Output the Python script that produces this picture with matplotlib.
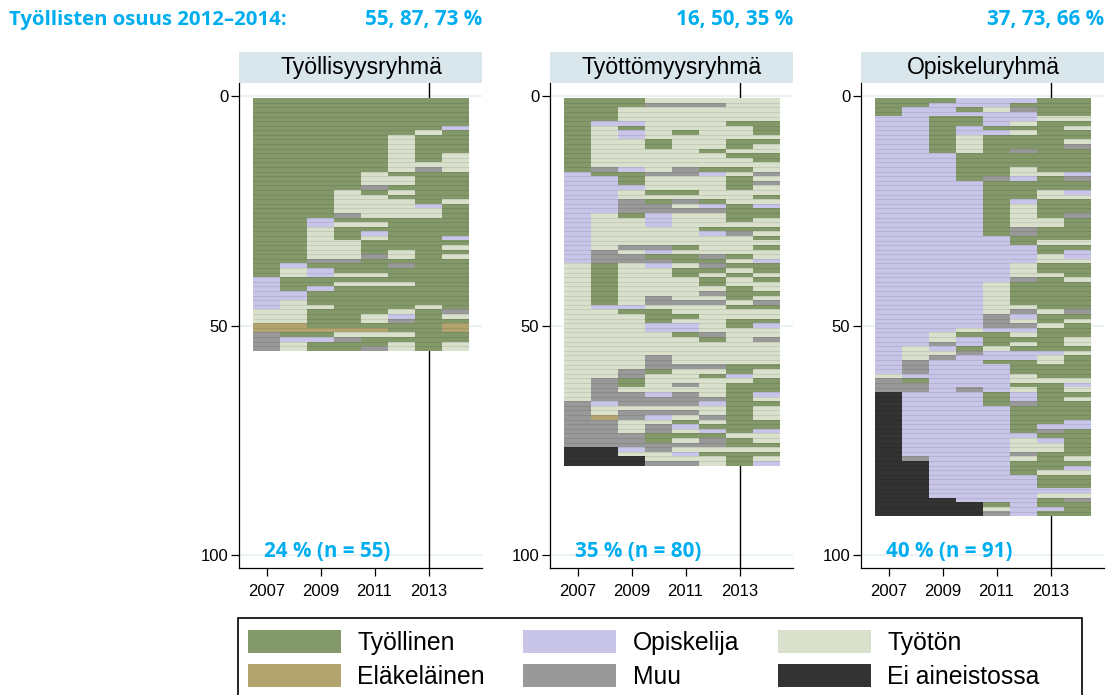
import matplotlib
matplotlib.use('Agg')
import matplotlib.pyplot as plt
from matplotlib.patches import Patch, Rectangle

# T tyollinen, E elakelainen, O opiskelija, M muu, U tyoton, X ei aineistossa
years = [2007, 2008, 2009, 2010, 2011, 2012, 2013, 2014]
tyollisyys = [
    "TTTTTTTT", "TTTTTTTT", "TTTTTTTT", "TTTTTTTT", "TTTTTTTT", "TTTTTTTT", "TTTTTTTO", "TTTTTTUT",
    "TTTTTUTT", "TTTTTUTT", "TTTTTUTT", "TTTTTUTT", "TTTTTUTU", "TTTTTUTU", "TTTTTUUU", "TTTTTUMU",
    "TTTTUTTT", "TTTTUUTT", "TTTTUUTT", "TTTTMTTT", "TTTUTUTT", "TTTUUTTT", "TTTUUUTU", "TTTUUUOT",
    "TTTUUUUT", "TTTMUUUT", "TTOTTTTT", "TTOUUTTT", "TTUTTTTT", "TTUTOTTT", "TTUTUTTO", "TTUUTTTT",
    "TTUUTTTU", "TTUUTUTT", "TTUUMUTU", "TTMMTTTT", "TOTTTMTT", "TUOTTTTT", "TUOUUTTT", "OTTTTTTT",
    "OTTUUUTT", "OTOTTTTT", "OOTTTTTT", "OOTTTTTT", "OUTTTTTT", "OUUTTTUT", "UUTTTUTM", "UUTTUOTU",
    "UUTTUMTT", "EETTTTTE", "EEEEETTE", "MTTUUUTT", "MOOMTTTT", "MUTTTUTU", "MUTTMUTU",
]
tyottomyys = [
    "TTTUUUUU", "TTTMMMUU", "TTUUUUUU", "TTUUUUUU", "TTUUUUUU", "TOOUUUTT", "TUTUUUUT", "TUOUTUUT",
    "TUOUUUUU", "TUUTUUTT", "TUUTUUTU", "TUUUUTUU", "TUUUUUTT", "TUUUUUUT", "TUUUUUUU", "TMOUMTTU",
    "OTTMMOUM", "OOTUUUTU", "OOTUUUTM", "OOOUUUTU", "OOUTTUUU", "OOUUUUUT", "OOMTMTUU", "OOMMUOTO",
    "OOMMMMTT", "OUTOUUTT", "OUUOUUTU", "OUUOUUUU", "OUUUUTTT", "OUUUUOMU", "OUUUUUUT", "OUUUUUUU",
    "OUMMTUUT", "OMUOUUUU", "OMMTTMTU", "OMMMTTUO", "UTUOUMTT", "UTUUTTUT", "UTUUTUTU", "UTUUUTUT",
    "UTUUUTUU", "UTUUUUTU", "UTUUUMTT", "UTUMUUTU", "UTUMMMUM", "UOOUUUTT", "UUTTUUUU", "UUUTTUUU",
    "UUUTUUTT", "UUUOOUTO", "UUUOOUUU", "UUUUTMUU", "UUUUUTUM", "UUUUUUUU", "UUUUUUUU", "UUUUUUUU",
    "UUUMUUUU", "UUUMUUUU", "UUUMMMTT", "UUMTUUTU", "UUMUUTOU", "UMTUUUUT", "UMTUMUTT", "UMUUUUTT",
    "UMMOMUTO", "UMMMMMTU", "MOMMMOTT", "MUUUUUTU", "MUMMMUTU", "MEMOUMTU", "MMUUTUTT", "MMUMOTTT",
    "MMUMUOTO", "MMMTTTUU", "MMMTUMTU", "MMMMMMTT", "XXOMUUUU", "XXUUOTTT", "XXXUUUTU", "XXXMMUTO",
]
opiskelu = [
    "TTTOOOTT", "TTOOOTTT", "TOOTUMTT", "TOOOOOTT", "OOTTOOUU", "OOTTOUTT", "OOTOTTTU", "OOTOOUTT",
    "OOTUTTTT", "OOTUTTTU", "OOTUTTTM", "OOTUTMTT", "OOOTTTTT", "OOOTTTTT", "OOOTTTTT", "OOOTTUTT",
    "OOOTTUUO", "OOOTMOTM", "OOOOTTTT", "OOOOTTTT", "OOOOTTUO", "OOOOTTUU", "OOOOTOTT", "OOOOTUTT",
    "OOOOTUTT", "OOOOTUTM", "OOOOTUUT", "OOOOTUUT", "OOOOTMTT", "OOOOTMTT", "OOOOOTTT", "OOOOOTUU",
    "OOOOOOTT", "OOOOOOTO", "OOOOOOUO", "OOOOOOUU", "OOOOOUTT", "OOOOOUTT", "OOOOOUUT", "OOOOOMTU",
    "OOOOUTTT", "OOOOUTTT", "OOOOUTTT", "OOOOUTTT", "OOOOUTTT", "OOOOUUTT", "OOOOUMUM", "OOOOMOTT",
    "OOOOMUTU", "OOOOMMUT", "OOOUOOTT", "OOUTTUTT", "OOUOTTTU", "OOMOTUTU", "OUOTUTTT", "OUUMOOOU",
    "OUMOOOUT", "OMOOTTUT", "OMOOOTTT", "OMOOOTTT", "UOOOOUTT", "MTOOOUUU", "MMOOOTTO", "MMOMOUTU",
    "XOOOTOTT", "XOOOTOTU", "XOOOTMTT", "XOOOOTTT", "XOOOOTTT", "XOOOOTTT", "XOOOOTTO", "XOOOOTOO",
    "XOOOOTMT", "XOOOOOTT", "XOOOOUOT", "XOOOOUUT", "XOOOOUUT", "XOOOOMTT", "XMOOOUTU", "XXOOOTTT",
    "XXOOOTTO", "XXOOOTUU", "XXOOOOTT", "XXOOOOTT", "XXOOOOTT", "XXOOOOOO", "XXOOOOUU", "XXXOOOTM",
    "XXXXTOTT", "XXXXUOOT", "XXXXMOTT",
]
panel_rows = [tyollisyys, tyottomyys, opiskelu]
panel_titles = ["Työllisyysryhmä", "Työttömyysryhmä", "Opiskeluryhmä"]
panel_notes = ["24 % (n = 55)", "35 % (n = 80)", "40 % (n = 91)"]
panel_shares = ["55, 87, 73 %", "16, 50, 35 %", "37, 73, 66 %"]
panel_left = [239, 550, 861]

codes = ["T", "E", "O", "M", "U", "X"]
names = ["Työllinen", "Eläkeläinen", "Opiskelija", "Muu", "Työtön", "Ei aineistossa"]
colors = ["#84996a", "#b2a36f", "#c8c5e8", "#999999", "#d9e0cc", "#333333"]
color_of = dict(zip(codes, colors))

W, H = 1106, 695
BLUE = "#00aeef"
plt.rcParams['font.family'] = ['Liberation Sans', 'DejaVu Sans']
fig = plt.figure(figsize=(W / 100, H / 100), dpi=100)

for rows, title, note, share, left in zip(panel_rows, panel_titles, panel_notes, panel_shares, panel_left):
    ax = fig.add_axes([left / W, 1 - 568 / H, 243 / W, 485 / H])
    ax.set_xlim(2005.98, 2014.98)
    ax.set_ylim(102.8, -2.8)
    for g in [0, 50, 100]:
        ax.axhline(g, color="#eaf2f3", lw=1.5, zorder=1)
    ax.axvline(2013, color="black", lw=1, zorder=1)
    for i, row in enumerate(rows):
        for year, c in zip(years, row):
            ax.barh(i + 1, 1, left=year - 0.5, height=1.02, color=color_of[c], lw=0, zorder=2)
    # thin darker seams between the rows
    for i in range(len(rows) - 1):
        ax.hlines(i + 1.5, years[0] - 0.5, years[-1] + 0.5, color="black", alpha=0.09, lw=0.8, zorder=3)
    ax.spines['top'].set_visible(False)
    ax.spines['right'].set_visible(False)
    ax.spines['left'].set_linewidth(0.9)
    ax.spines['bottom'].set_linewidth(0.9)
    ax.set_xticks([2007, 2009, 2011, 2013])
    ax.set_yticks([0, 50, 100])
    ax.tick_params(labelsize=12, length=5.8, width=0.9)
    ax.tick_params(axis='x', pad=6)
    ax.tick_params(axis='y', pad=2)
    ax.add_patch(Rectangle((0, 1), 1, 31 / 485, transform=ax.transAxes, clip_on=False,
                           color="#d9e6ec", lw=0))
    ax.text(0.502, 1 + 15.5 / 485, title, transform=ax.transAxes, ha="center", va="center", fontsize=16.6)
    ax.text(2006.92, 99.2, note, ha="left", va="center", color=BLUE, fontsize=14.85,
            fontweight="bold", family="Open Sans")
    fig.text((left + 243.5) / W, 1 - 20 / H, share, ha="right", va="center", color=BLUE,
             fontsize=14.9, fontweight="bold", family="Open Sans")

fig.text(9 / W, 1 - 20 / H, "Työllisten osuus 2012–2014:", ha="left", va="center", color=BLUE,
         fontsize=14.7, fontweight="bold", family="Open Sans")

# legend box runs off the bottom of the picture like in the original
fig.add_artist(Rectangle((238 / W, -0.02), 844 / W, 1 - 618 / H + 0.02, transform=fig.transFigure,
                         facecolor="white", edgecolor="black", lw=1.2))
handles = [Patch(facecolor=c, lw=0) for c in colors]
leg = fig.legend(handles, names, ncol=3, loc="upper left", bbox_to_anchor=(248 / W, 1 - 630 / H),
                 borderaxespad=0, borderpad=0, fontsize=17.8, handlelength=3.76, handleheight=1.03,
                 handletextpad=0.66, columnspacing=1.56, labelspacing=0.38, frameon=False)

fig.savefig("out.png", dpi=100)
